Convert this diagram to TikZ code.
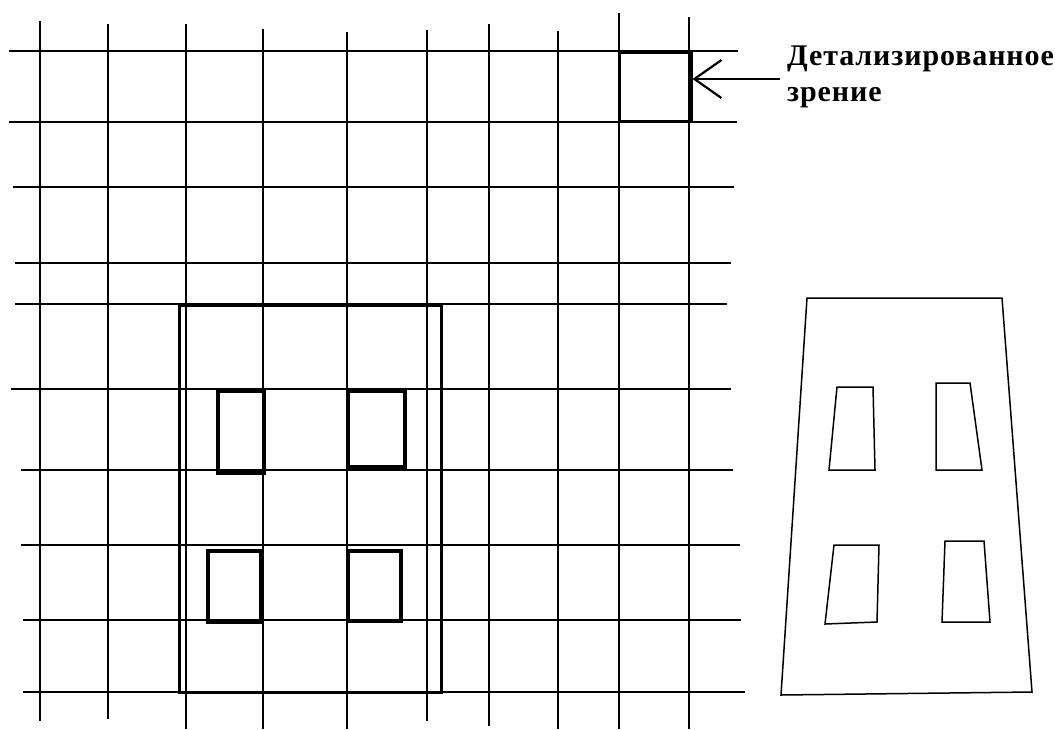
\documentclass[tikz,border=0pt]{standalone}
\usepackage{fontspec}
\setmainfont{Liberation Serif}
\usetikzlibrary{arrows.meta,positioning}

\begin{document}
\begin{tikzpicture}[
 x=1pt, y=-1pt,
 gridline/.style={line width=1.6pt},
 frame/.style={line width=3pt},
 pane/.style={line width=3.6pt},
 outline/.style={line width=1.5pt, line join=miter},
 viewbox/.style={draw, line width=3pt, minimum width=72pt, minimum height=69pt, inner sep=0pt},
 callout/.style={align=left, inner sep=0pt, font=\bfseries\fontsize{30}{36}\selectfont\addfontfeatures{LetterSpace=3}},
 arr/.style={{Straight Barb[length=27pt, width=38pt, line width=2.2pt]}-, line width=2.4pt}
]
\useasboundingbox (0,0) rectangle (1055,729);

% grid
\foreach \x/\a/\b in {40/21/721, 108/24/719, 186/24/729, 263/29/729, 347/32/729,
                      427/30/721, 489/24/726, 558/31/729, 619/13/729, 689/17/729}
  \draw[gridline] (\x,\a) -- (\x,\b);
\foreach \y/\a/\b in {51/9/738, 122/9/737, 187/13/734, 263/15/731, 304/15/727,
                      389/11/731, 470/21/733, 545/21/740, 620/23/741, 692/23/745}
  \draw[gridline] (\a,\y) -- (\b,\y);

% building on the grid
\draw[frame] (179,305) rectangle (441,692);
\draw[pane] (218,391) rectangle (264,473);
\draw[pane] (348,391) rectangle (405,467);
\draw[pane] (208,551) rectangle (261,622);
\draw[pane] (348,551) rectangle (401,621);

% building as seen
\draw[outline] (807,298) -- (1002,298) -- (1032,692) -- (781,695) -- cycle;
\draw[outline] (837,387) -- (873,387) -- (875,470) -- (829,470) -- cycle;
\draw[outline] (936,383) -- (970,383) -- (982,470) -- (936,470) -- cycle;
\draw[outline] (834,545) -- (879,545) -- (877,622) -- (825,624) -- cycle;
\draw[outline] (945,541) -- (984,541) -- (990,622) -- (942,622) -- cycle;

% detail window
\node[viewbox] (fovea) at (655,86.5) {};
\node[callout, anchor=north west] (label) at (787,46) {Детализированное\\зрение};
\coordinate (tail) at (780,79);

\draw[arr] (fovea.east |- tail) -- (tail);
\end{tikzpicture}
\end{document}
